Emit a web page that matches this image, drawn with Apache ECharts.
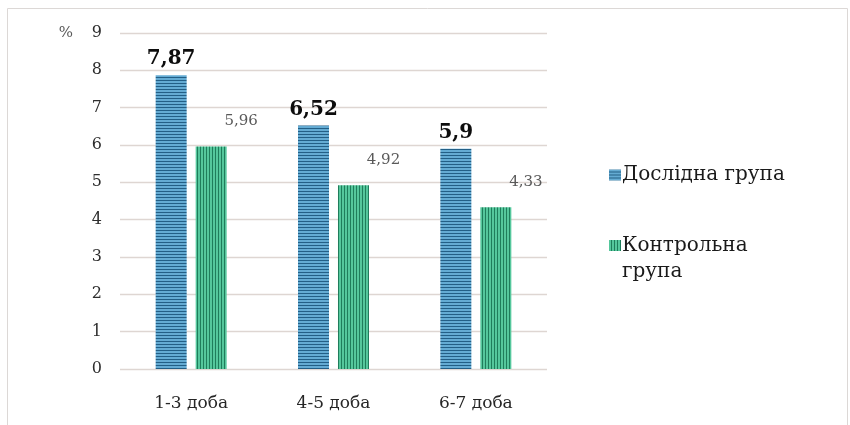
<!DOCTYPE html>
<html>
<head>
<meta charset="utf-8">
<script src="https://cdn.jsdelivr.net/npm/echarts@6/dist/echarts.min.js"></script>
<style>
  html, body { margin: 0; padding: 0; background: #ffffff; }
  #chart { width: 850px; height: 425px; }
</style>
</head>
<body>
<div id="chart"></div>
<script>
const categories = ['1-3 доба', '4-5 доба', '6-7 доба'];
const seriesNames = ['Дослідна група', 'Контрольна група'];
const experimentalValues = [7.87, 6.52, 5.9];
const controlValues = [5.96, 4.92, 4.33];
const yTicks = [0, 1, 2, 3, 4, 5, 6, 7, 8, 9];

function makePattern(light, dark, horizontal) {
  const c = document.createElement('canvas');
  c.width = 3; c.height = 3;
  const ctx = c.getContext('2d');
  ctx.fillStyle = light;
  ctx.fillRect(0, 0, 3, 3);
  ctx.fillStyle = dark;
  if (horizontal) ctx.fillRect(0, 2, 3, 1);
  else ctx.fillRect(2, 0, 1, 3);
  return { image: c, repeat: 'repeat' };
}
const bluePattern = makePattern('#64abd3', '#235f86', true);
const greenPattern = makePattern('#55c79c', '#1f7d5b', false);

const fmt = v => String(v).replace('.', ',');
const FONT = '"DejaVu Serif", "Liberation Serif", serif';

const chart = echarts.init(document.getElementById('chart'), null, { renderer: 'canvas' });
chart.setOption({
  animation: false,
  backgroundColor: '#ffffff',
  textStyle: { fontFamily: FONT },
  graphic: [{
    type: 'rect',
    shape: { x: 7.5, y: 8.5, width: 840, height: 430 },
    style: { fill: 'none', stroke: '#dcd8d6', lineWidth: 1 },
    silent: true
  }],
  grid: { left: 120, right: 303, top: 33, bottom: 56 },
  legend: [{
    data: [seriesNames[0]],
    orient: 'vertical',
    left: 604,
    top: 160,
    icon: 'rect',
    itemWidth: 12,
    itemHeight: 11,
    itemGap: 4,
    textStyle: { fontFamily: FONT, fontSize: 20, color: '#1a1a1a', padding: [0, 0, 0, -4] },
    selectedMode: false
  }, {
    data: [seriesNames[1]],
    orient: 'vertical',
    left: 604,
    top: 228,
    icon: 'path://M0,0h12v11h-12z M0,37h0.01v1h-0.01z',
    itemWidth: 12,
    itemHeight: 38,
    textStyle: { fontFamily: FONT, fontSize: 20, color: '#1a1a1a', lineHeight: 26, padding: [0, 0, 0, -4] },
    formatter: () => 'Контрольна\nгрупа',
    selectedMode: false
  }],
  xAxis: {
    type: 'category',
    data: categories,
    axisLine: { show: false },
    axisTick: { show: false },
    axisLabel: { fontFamily: FONT, fontSize: 17, color: '#262626', margin: 26 }
  },
  yAxis: {
    type: 'value',
    min: yTicks[0],
    max: yTicks[yTicks.length - 1],
    interval: 1,
    name: '%',
    nameLocation: 'end',
    nameGap: 0,
    nameTextStyle: { fontFamily: FONT, fontSize: 15, color: '#595959', align: 'right', verticalAlign: 'middle', padding: [0, 47, 0, 0] },
    axisLine: { show: false },
    axisTick: { show: false },
    axisLabel: { fontFamily: FONT, fontSize: 16, color: '#2e2e2e', margin: 18 },
    splitLine: { lineStyle: { color: '#ded6d2', width: 1.3 } }
  },
  series: [{
    name: seriesNames[0],
    type: 'bar',
    data: experimentalValues,
    barWidth: 31,
    barGap: '29%',
    itemStyle: { color: bluePattern },
    label: {
      show: true,
      position: 'top',
      distance: 6,
      formatter: p => fmt(p.value),
      fontFamily: FONT,
      fontSize: 20,
      fontWeight: 'bold',
      color: '#0d0d0d'
    }
  }, {
    name: seriesNames[1],
    type: 'bar',
    data: controlValues,
    barWidth: 31,
    itemStyle: { color: greenPattern },
    label: {
      show: true,
      position: 'top',
      distance: 5,
      offset: [30, -13],
      formatter: p => fmt(p.value),
      fontFamily: FONT,
      fontSize: 15,
      color: '#595959'
    }
  }]
});
</script>
</body>
</html>
